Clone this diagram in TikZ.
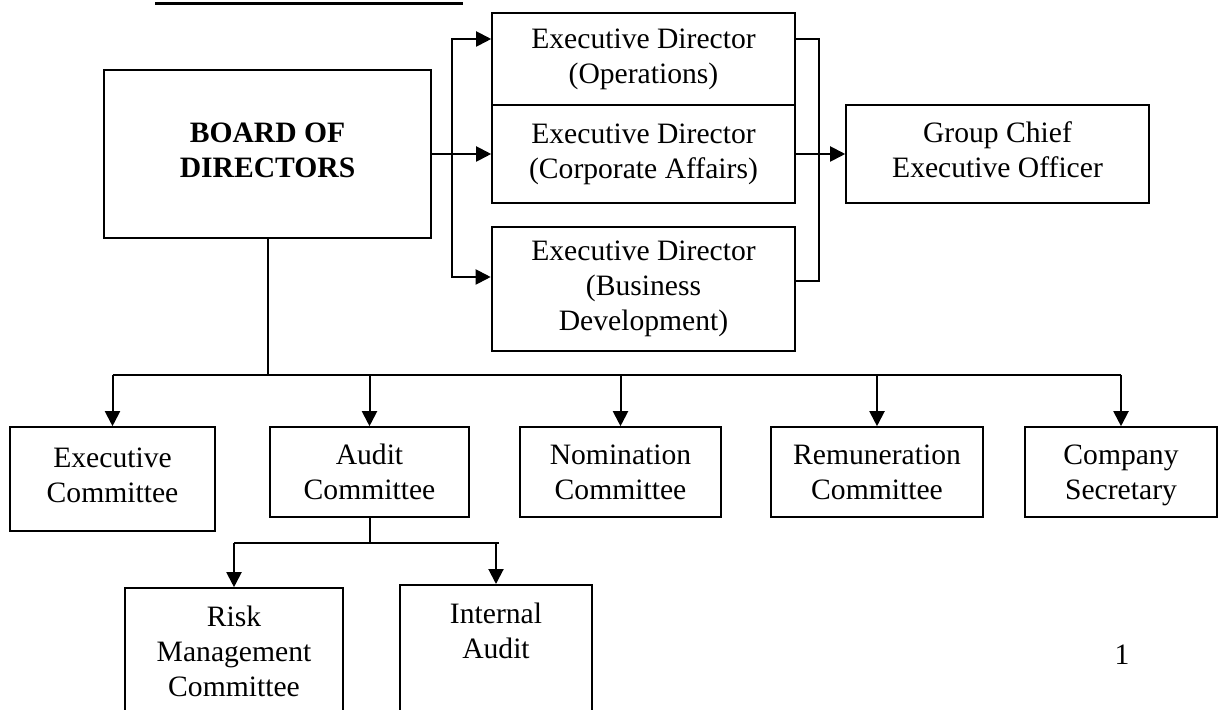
\documentclass[tikz,border=0pt]{standalone}
\usepackage{fontspec}
\setmainfont{Liberation Serif}
\usetikzlibrary{arrows.meta}

\begin{document}
\begin{tikzpicture}[
  x=0.5pt, y=-0.5pt,
  font=\fontsize{14.8}{17.5}\selectfont,
  boxnode/.style={rectangle, draw=black, line width=0.8pt, align=center, inner sep=0pt},
  thickboxnode/.style={boxnode, line width=1.3pt},
  plainline/.style={line width=1pt},
  arrowline/.style={plainline, -{Triangle[length=7.5pt,width=7.5pt]}},
]
\useasboundingbox (0,0) rectangle (1219,710);

\draw[line width=1.5pt] (155,4) -- (463,4);

\node[boxnode, minimum width=163.5pt, minimum height=84pt, text depth=4pt, font=\fontsize{14.8}{17.5}\selectfont\bfseries] (board) at (267.5,154) {BOARD OF\\DIRECTORS};

\node[boxnode, minimum width=151.5pt, minimum height=46pt] (edops) at (643.5,59) {Executive Director\\(Operations)};
\node[boxnode, minimum width=151.5pt, minimum height=49pt] (edcorp) at (643.5,154) {Executive Director\\(Corporate Affairs)};
\node[thickboxnode, minimum width=151.5pt, minimum height=62pt] (edbus) at (643.5,289) {Executive Director\\(Business\\Development)};
\node[boxnode, minimum width=151.5pt, minimum height=49pt, text depth=4pt] (gceo) at (997.5,154) {Group Chief\\Executive Officer};

\node[boxnode, minimum width=102.5pt, minimum height=52pt, text depth=4pt] (excom) at (112.5,479) {Executive\\Committee};
\node[boxnode, minimum width=99.5pt, minimum height=45pt] (audit) at (369.5,472) {Audit\\Committee};
\node[boxnode, minimum width=100.5pt, minimum height=45pt] (nomin) at (620.5,472) {Nomination\\Committee};
\node[boxnode, minimum width=106pt, minimum height=45pt] (remun) at (877,472) {Remuneration\\Committee};
\node[boxnode, minimum width=96pt, minimum height=45pt, text depth=0pt] (cosec) at (1121,472) {Company\\Secretary};

\node[boxnode, minimum width=109pt, minimum height=63pt] (risk) at (234,651) {Risk\\Management\\Committee};
\node[boxnode, minimum width=96pt, inner ysep=9pt, text depth=50pt, anchor=north] (intaudit) at (496,584) {Internal\\Audit};

\node (pagenum) at (1122,655) {1};

\coordinate (split) at (452,154);
\coordinate (join) at (819,154);
\coordinate (busL) at (112.5,375);
\coordinate (busR) at (1121,375);
\coordinate (subL) at (234,543);
\coordinate (subR) at (499,543);

\draw[arrowline] (board.east) -- (edcorp.west);
\draw[arrowline] (split) |- ([yshift=10pt]edops.west);
\draw[arrowline] (split) |- ([yshift=6pt]edbus.west);
\draw[plainline] ([yshift=10pt]edops.east) -| (join) |- ([yshift=4pt]edbus.east);
\draw[arrowline] (edcorp.east) -- (gceo.west);

\draw[plainline] (board.south) -- (board.south |- busL);
\draw[plainline] (busL) -- (busR);
\foreach \n in {excom,audit,nomin,remun,cosec}
  \draw[arrowline] (\n.north |- busL) -- (\n.north);

\draw[plainline] (audit.south) -- (audit.south |- subL);
\draw[plainline] (subL) -- (subR);
\draw[arrowline] (subL) -- (risk.north);
\draw[arrowline] (intaudit.north |- subL) -- (intaudit.north);

\end{tikzpicture}
\end{document}
